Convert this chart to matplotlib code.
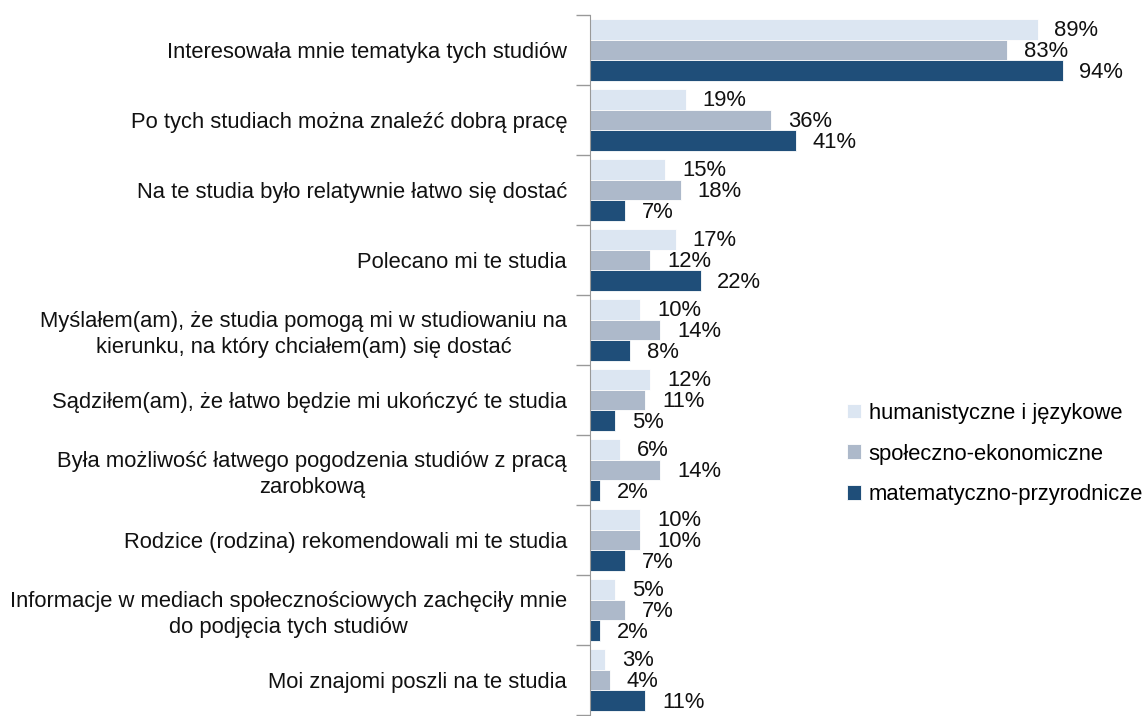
import matplotlib
matplotlib.use("Agg")
import matplotlib.pyplot as plt
import numpy as np

# Kategorien (von oben nach unten)
kategorien = [
    "Interesowała mnie tematyka tych studiów",
    "Po tych studiach można znaleźć dobrą pracę",
    "Na te studia było relatywnie łatwo się dostać",
    "Polecano mi te studia",
    "Myślałem(am), że studia pomogą mi w studiowaniu na\nkierunku, na który chciałem(am) się dostać",
    "Sądziłem(am), że łatwo będzie mi ukończyć te studia",
    "Była możliwość łatwego pogodzenia studiów z pracą\nzarobkową",
    "Rodzice (rodzina) rekomendowali mi te studia",
    "Informacje w mediach społecznościowych zachęciły mnie\ndo podjęcia tych studiów",
    "Moi znajomi poszli na te studia",
]
serien = ["humanistyczne i językowe", "społeczno-ekonomiczne", "matematyczno-przyrodnicze"]
humanistyczne = [89, 19, 15, 17, 10, 12, 6, 10, 5, 3]
spoleczne = [83, 36, 18, 12, 14, 11, 14, 10, 7, 4]
matematyczne = [94, 41, 7, 22, 8, 5, 2, 7, 2, 11]
farben = ["#dce6f2", "#adb9ca", "#1f4e79"]

groesse = 15.8
plt.rcParams["font.family"] = ["Liberation Sans", "DejaVu Sans"]

fig = plt.figure(figsize=(11.43, 7.16), dpi=100)
ax = fig.add_axes([590 / 1143, 1 / 716, (1093 - 590) / 1143, 700 / 716])

y = np.arange(len(kategorien))
h = 0.296
balken = []
for k, (werte, farbe) in enumerate(zip([humanistyczne, spoleczne, matematyczne], farben)):
    pos = y + (k - 1) * h
    b = ax.barh(pos, werte, height=h, color=farbe, edgecolor="white", linewidth=0.6, label=serien[k])
    balken.append(b)
    # Beschriftung rechts neben dem Balken
    for p, w in zip(pos, werte):
        ax.annotate(f"{w}%", (w, p), xytext=(12, -1), textcoords="offset points",
                    ha="left", va="center", fontsize=groesse, color="#111111")

ax.set_xlim(0, 100)
ax.set_ylim(len(kategorien) - 0.5, -0.5)
ax.set_yticks(y)
ax.set_yticklabels(kategorien, fontsize=groesse, color="#111111", multialignment="center", linespacing=1.3)
ax.set_yticks(np.arange(len(kategorien) + 1) - 0.5, minor=True)
ax.tick_params(axis="y", which="major", length=0, pad=16.5)
ax.tick_params(axis="y", which="minor", length=10, color="#999999", width=1)
ax.set_xticks([])
for s in ["top", "right", "bottom"]:
    ax.spines[s].set_visible(False)
ax.spines["left"].set_color("#999999")
ax.set_facecolor("none")

fig.legend(handles=balken, labels=serien, loc="upper left", bbox_to_anchor=(838 / 1143, 1 - 394 / 716),
           frameon=False, fontsize=groesse, handlelength=0.65, handleheight=0.65,
           handletextpad=0.35, labelspacing=0.9, borderaxespad=0)

fig.savefig("out.png", dpi=100)
